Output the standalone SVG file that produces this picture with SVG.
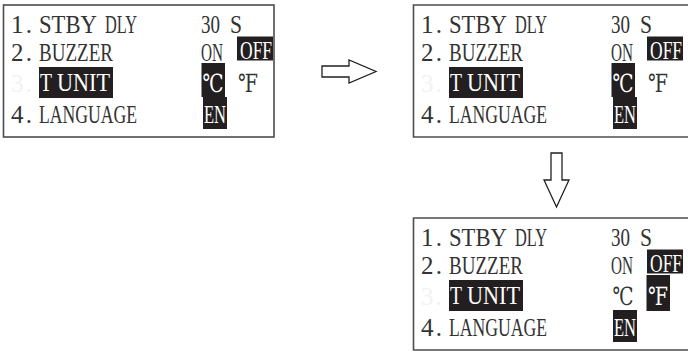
<svg xmlns="http://www.w3.org/2000/svg" width="688" height="352" viewBox="0 0 688 352">
<style>
.t{font-family:"Liberation Serif","DejaVu Serif","Noto Sans CJK SC",serif;font-size:25px;fill:#333333}
.w{fill:#ffffff}
.f{fill:#f2f2f2}
.hl{fill:#231f20}
.frame{fill:none;stroke:#4d4d4d;stroke-width:1.6}
.arrow{fill:#ffffff;stroke:#231f20;stroke-width:1.3;stroke-linejoin:miter}
</style>
<rect width="688" height="352" fill="#ffffff"/>
<g id="screen1">
<rect class="frame" x="3.5" y="5" width="270.5" height="132"/>
<text class="t" x="11" y="33" textLength="21" lengthAdjust="spacing">1.</text>
<text class="t" x="39" y="33" textLength="58" lengthAdjust="spacingAndGlyphs">STBY</text>
<text class="t" x="105" y="33" textLength="32" lengthAdjust="spacingAndGlyphs">DLY</text>
<text class="t" x="201" y="33" textLength="19" lengthAdjust="spacingAndGlyphs">30</text>
<text class="t" x="230" y="33" textLength="12" lengthAdjust="spacingAndGlyphs">S</text>
<text class="t" x="11" y="61" textLength="21" lengthAdjust="spacing">2.</text>
<text class="t" x="39" y="61" textLength="74" lengthAdjust="spacingAndGlyphs">BUZZER</text>
<text class="t" x="201" y="61" textLength="22" lengthAdjust="spacingAndGlyphs">ON</text>
<rect class="hl" x="237" y="36.5" width="36" height="24"/>
<text class="t w" transform="translate(240,59) scale(0.7,1)">OFF</text>
<text class="t f" x="11" y="92" textLength="21" lengthAdjust="spacing">3.</text>
<rect class="hl" x="39" y="67" width="74" height="31"/>
<text class="t w" x="40" y="91" textLength="12" lengthAdjust="spacingAndGlyphs">T</text>
<text class="t w" x="57" y="91" textLength="53" lengthAdjust="spacingAndGlyphs">UNIT</text>
<rect class="hl" x="201.5" y="63" width="23.5" height="34"/>
<text class="t w" x="202.5" y="92" textLength="21" lengthAdjust="spacingAndGlyphs">℃</text>
<text class="t" x="238" y="92" textLength="20" lengthAdjust="spacingAndGlyphs">℉</text>
<text class="t" x="11" y="123" textLength="21" lengthAdjust="spacing">4.</text>
<text class="t" x="39" y="123" textLength="98" lengthAdjust="spacingAndGlyphs">LANGUAGE</text>
<rect class="hl" x="203" y="97" width="24" height="32"/>
<text class="t w" x="204" y="123" textLength="22" lengthAdjust="spacingAndGlyphs">EN</text>
</g>
<g id="screen2" transform="translate(410,0)">
<path class="frame" d="M278 5H3.5V137H278"/>
<text class="t" x="11" y="33" textLength="21" lengthAdjust="spacing">1.</text>
<text class="t" x="39" y="33" textLength="58" lengthAdjust="spacingAndGlyphs">STBY</text>
<text class="t" x="105" y="33" textLength="32" lengthAdjust="spacingAndGlyphs">DLY</text>
<text class="t" x="201" y="33" textLength="19" lengthAdjust="spacingAndGlyphs">30</text>
<text class="t" x="230" y="33" textLength="12" lengthAdjust="spacingAndGlyphs">S</text>
<text class="t" x="11" y="61" textLength="21" lengthAdjust="spacing">2.</text>
<text class="t" x="39" y="61" textLength="74" lengthAdjust="spacingAndGlyphs">BUZZER</text>
<text class="t" x="201" y="61" textLength="22" lengthAdjust="spacingAndGlyphs">ON</text>
<rect class="hl" x="237" y="36.5" width="36" height="24"/>
<text class="t w" transform="translate(240,59) scale(0.7,1)">OFF</text>
<text class="t f" x="11" y="92" textLength="21" lengthAdjust="spacing">3.</text>
<rect class="hl" x="39" y="67" width="74" height="31"/>
<text class="t w" x="40" y="91" textLength="12" lengthAdjust="spacingAndGlyphs">T</text>
<text class="t w" x="57" y="91" textLength="53" lengthAdjust="spacingAndGlyphs">UNIT</text>
<rect class="hl" x="201.5" y="63" width="23.5" height="34"/>
<text class="t w" x="202.5" y="92" textLength="21" lengthAdjust="spacingAndGlyphs">℃</text>
<text class="t" x="238" y="92" textLength="20" lengthAdjust="spacingAndGlyphs">℉</text>
<text class="t" x="11" y="123" textLength="21" lengthAdjust="spacing">4.</text>
<text class="t" x="39" y="123" textLength="98" lengthAdjust="spacingAndGlyphs">LANGUAGE</text>
<rect class="hl" x="203" y="97" width="24" height="32"/>
<text class="t w" x="204" y="123" textLength="22" lengthAdjust="spacingAndGlyphs">EN</text>
</g>
<g id="screen3" transform="translate(410,213)">
<path class="frame" d="M278 5H3.5V137H278"/>
<text class="t" x="11" y="33" textLength="21" lengthAdjust="spacing">1.</text>
<text class="t" x="39" y="33" textLength="58" lengthAdjust="spacingAndGlyphs">STBY</text>
<text class="t" x="105" y="33" textLength="32" lengthAdjust="spacingAndGlyphs">DLY</text>
<text class="t" x="201" y="33" textLength="19" lengthAdjust="spacingAndGlyphs">30</text>
<text class="t" x="230" y="33" textLength="12" lengthAdjust="spacingAndGlyphs">S</text>
<text class="t" x="11" y="61" textLength="21" lengthAdjust="spacing">2.</text>
<text class="t" x="39" y="61" textLength="74" lengthAdjust="spacingAndGlyphs">BUZZER</text>
<text class="t" x="201" y="61" textLength="22" lengthAdjust="spacingAndGlyphs">ON</text>
<rect class="hl" x="237" y="36.5" width="36" height="24"/>
<text class="t w" transform="translate(240,59) scale(0.7,1)">OFF</text>
<text class="t f" x="11" y="92" textLength="21" lengthAdjust="spacing">3.</text>
<rect class="hl" x="39" y="67" width="74" height="31"/>
<text class="t w" x="40" y="91" textLength="12" lengthAdjust="spacingAndGlyphs">T</text>
<text class="t w" x="57" y="91" textLength="53" lengthAdjust="spacingAndGlyphs">UNIT</text>
<text class="t" x="202.5" y="92" textLength="21" lengthAdjust="spacingAndGlyphs">℃</text>
<rect class="hl" x="236.5" y="62" width="23.5" height="36"/>
<text class="t w" x="238" y="92" textLength="20" lengthAdjust="spacingAndGlyphs">℉</text>
<text class="t" x="11" y="123" textLength="21" lengthAdjust="spacing">4.</text>
<text class="t" x="39" y="123" textLength="98" lengthAdjust="spacingAndGlyphs">LANGUAGE</text>
<rect class="hl" x="203" y="97" width="24" height="32"/>
<text class="t w" x="204" y="123" textLength="22" lengthAdjust="spacingAndGlyphs">EN</text>
</g>
<g id="connectors">
<polygon class="arrow" points="322,66 349,66 349,60 376,71.5 349,83 349,77 322,77"/>
<polygon class="arrow" points="551,153 562,153 562,180 569,180 556.5,207 544,180 551,180"/>
</g>
</svg>
